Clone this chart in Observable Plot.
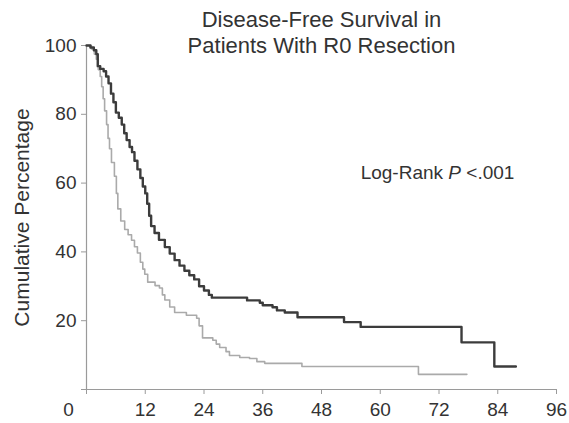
<!DOCTYPE html>
<html>
<head>
<meta charset="utf-8">
<script src="https://cdn.jsdelivr.net/npm/d3@7"></script>
<script src="https://cdn.jsdelivr.net/npm/@observablehq/plot@0.6"></script>
<style>
  html, body { margin: 0; padding: 0; background: #fff; }
  #chart svg { display: block; }
</style>
</head>
<body>
<div id="chart"></div>
<script>
// ---- data (months, cumulative %) ----
const titleLines = ["Disease-Free Survival in", "Patients With R0 Resection"];
const yLabel = "Cumulative Percentage";
const annotation = "Log-Rank P <.001";
const annotationPos = [56, 63]; // month, percent
const xTicks = [0, 12, 24, 36, 48, 60, 72, 84, 96];
const yTicks = [0, 20, 40, 60, 80, 100];

const darkMonths = [0,0.8,1.5,2.0,2.3,2.8,3.5,4.0,4.5,5.0,5.5,6.0,6.6,7.2,7.7,8.2,8.8,9.3,9.8,10.4,11.0,11.5,12.0,12.4,12.8,13.2,13.9,14.8,16.0,17.0,18.0,19.0,20.0,21.0,22.0,23.0,24.0,25.0,25.6,32.8,35.4,36.0,38.0,38.9,40.5,43.1,52.6,56.0,76.6,83.3,87.7];
const darkPct    = [100,99.4,98.6,97.5,94,93.2,92.5,91,89,86,83.5,80.5,79,77,74.5,72.5,70.5,69,66.5,64,61.5,59,57,54,50.5,47.5,45.5,43.5,41.4,39.5,37.6,36,34.5,33.2,32,30,28.8,27.5,26.7,25.9,25.2,24.5,23.9,23.0,22.4,21.0,19.6,18.2,13.7,6.7,6.7];

const lightMonths = [0,1.0,1.6,2.0,2.4,2.8,3.1,3.4,3.7,4.1,4.4,4.7,5.1,5.7,6.1,6.4,7.0,7.8,8.5,9.2,9.8,10.4,11.0,11.5,11.9,12.5,14.0,14.9,15.5,16.0,17.0,18.0,20.4,22.5,23.0,23.7,25.8,26.5,27.2,28.5,29.2,31.3,33.3,34.8,36.4,44.0,67.8,77.7];
const lightPct    = [100,99,97.5,96,93,91,88,84.5,81,77,73,70,66,62,57,52.5,49,46.5,45,43.4,41.5,39.7,37,35,33.5,31.2,30.2,29.5,27.5,26,24,22.4,21.6,20.7,18.5,15,14.3,13.2,12.2,11,9.9,9.3,9.0,8.1,7.6,6.7,4.4,4.4];

const dark = darkMonths.map((m, i) => ({m, p: darkPct[i]}));
const light = lightMonths.map((m, i) => ({m, p: lightPct[i]}));

const FONT = "'Liberation Sans', Arial, Helvetica, sans-serif";
const TXT = "#333";
const AX = "#9a9a9a";

const chart = Plot.plot({
  width: 569,
  height: 423,
  marginLeft: 86,
  marginRight: 13,
  marginTop: 45,
  marginBottom: 34,
  style: {fontFamily: FONT, color: TXT, background: "#fff"},
  x: {domain: [0, 96], axis: null},
  y: {domain: [0, 100], axis: null},
  marks: [
    Plot.ruleX([0], {stroke: AX, strokeWidth: 1.2}),
    Plot.ruleY([0], {stroke: AX, strokeWidth: 1.2}),
    Plot.axisY(yTicks, {
      tickSize: 5, tickPadding: 5, stroke: AX, fill: TXT, fontSize: 19,
      tickFormat: d => d === 0 ? "" : d, label: null
    }),
    Plot.axisX(xTicks, {
      tickSize: 5, tickPadding: 8, stroke: AX, fill: TXT, fontSize: 19,
      tickFormat: d => d === 0 ? "" : d, label: null
    }),
    Plot.axisX([0], {
      tickSize: 0, tickPadding: 13, dx: -18, fill: TXT, fontSize: 19, label: null
    }),
    Plot.line(light, {x: "m", y: "p", curve: "step-after", stroke: "#aaaaaa", strokeWidth: 1.6}),
    Plot.line(dark, {x: "m", y: "p", curve: "step-after", stroke: "#3c3c3c", strokeWidth: 2.4}),
    Plot.text([titleLines.join("\n")], {
      frameAnchor: "top", dy: -14, lineAnchor: "middle", lineHeight: 1.2,
      fontSize: 22, fill: TXT
    }),
    Plot.text([yLabel], {
      frameAnchor: "left", rotate: -90, dx: -64, textAnchor: "middle",
      fontSize: 21, fill: TXT
    }),
    Plot.text([annotation], {
      x: () => annotationPos[0], y: () => annotationPos[1],
      textAnchor: "start", fontSize: 19, fill: TXT
    })
  ]
});

// italicise the "P" of the annotation
d3.select(chart).selectAll("text").each(function() {
  const t = this.textContent;
  if (t === annotation) {
    const parts = t.split(" P ");
    const sel = d3.select(this);
    sel.text(null);
    sel.append("tspan").text(parts[0] + " ");
    sel.append("tspan").attr("font-style", "italic").text("P");
    sel.append("tspan").text(" " + parts[1]);
  }
});

document.getElementById("chart").appendChild(chart);
</script>
</body>
</html>
